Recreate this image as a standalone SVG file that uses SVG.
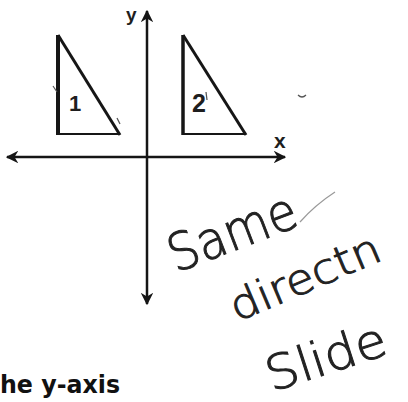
<svg xmlns="http://www.w3.org/2000/svg" width="408" height="402" viewBox="0 0 408 402">
<style>
.ax{stroke:#151515;stroke-width:2.5;fill:none}
.tri{fill:none;stroke:#161616;stroke-linejoin:miter}
.lbl{font-family:"Liberation Sans",Arial,sans-serif;font-weight:bold;fill:#1e1e1e}
.hw{font-family:"DejaVu Sans",sans-serif;font-weight:200;fill:#222;stroke:#222;stroke-width:1}
.cap{font-family:"DejaVu Sans",sans-serif;font-weight:bold;fill:#111}
</style>
<defs>
<marker id="ah" viewBox="0 0 10 10" refX="9" refY="5" markerWidth="5" markerHeight="5" orient="auto-start-reverse" markerUnits="strokeWidth">
<path d="M0,0 L10,5 L0,10 L3,5 Z" fill="#151515"/>
</marker>
</defs>
<rect width="408" height="402" fill="#fff"/>
<g id="axes">
<line class="ax" x1="7" y1="157" x2="285" y2="157" marker-start="url(#ah)" marker-end="url(#ah)"/>
<line class="ax" x1="147" y1="11" x2="147" y2="304" marker-start="url(#ah)" marker-end="url(#ah)"/>
<text class="lbl" x="126" y="21" font-size="19">y</text>
<text class="lbl" x="274" y="148" font-size="21">x</text>
</g>
<g id="triangle1">
<path class="tri" d="M58,35 L58,135" stroke-width="4"/>
<path class="tri" d="M58,35 L120,135" stroke-width="3"/>
<path class="tri" d="M58,134 L120,134" stroke-width="2.2" stroke="#333"/>
<text class="lbl" x="69" y="111" font-size="22" fill="#333">1</text>
</g>
<g id="triangle2">
<path class="tri" d="M183,35 L183,135" stroke-width="3.5"/>
<path class="tri" d="M183,35 L246,135" stroke-width="3"/>
<path class="tri" d="M183,134 L246,134" stroke-width="2.2" stroke="#333"/>
<text class="lbl" x="192" y="112" font-size="25" fill="#222">2</text>
</g>
<g id="marks" fill="none" stroke="#555" stroke-width="1.2">
<path d="M53,86 L57,92"/>
<path d="M117,118 L120,124"/>
<path d="M206,92 L207,100"/>
<path d="M298,95 Q302,99 306,95"/>
<path d="M300,222 Q315,205 335,192" stroke="#999"/>
</g>
<g id="handwriting">
<text class="hw" x="0" y="0" font-size="52" textLength="134" lengthAdjust="spacingAndGlyphs" transform="translate(176,273) rotate(-21)">Same</text>
<text class="hw" x="0" y="0" font-size="42" textLength="160" lengthAdjust="spacingAndGlyphs" transform="translate(237,322) rotate(-23)">directn</text>
<text class="hw" x="0" y="0" font-size="48" textLength="124" lengthAdjust="spacingAndGlyphs" transform="translate(272,392) rotate(-18)">Slide</text>
</g>
<g id="caption">
<text class="cap" x="0" y="393" font-size="24" textLength="120" lengthAdjust="spacingAndGlyphs">he y-axis</text>
</g>
</svg>
